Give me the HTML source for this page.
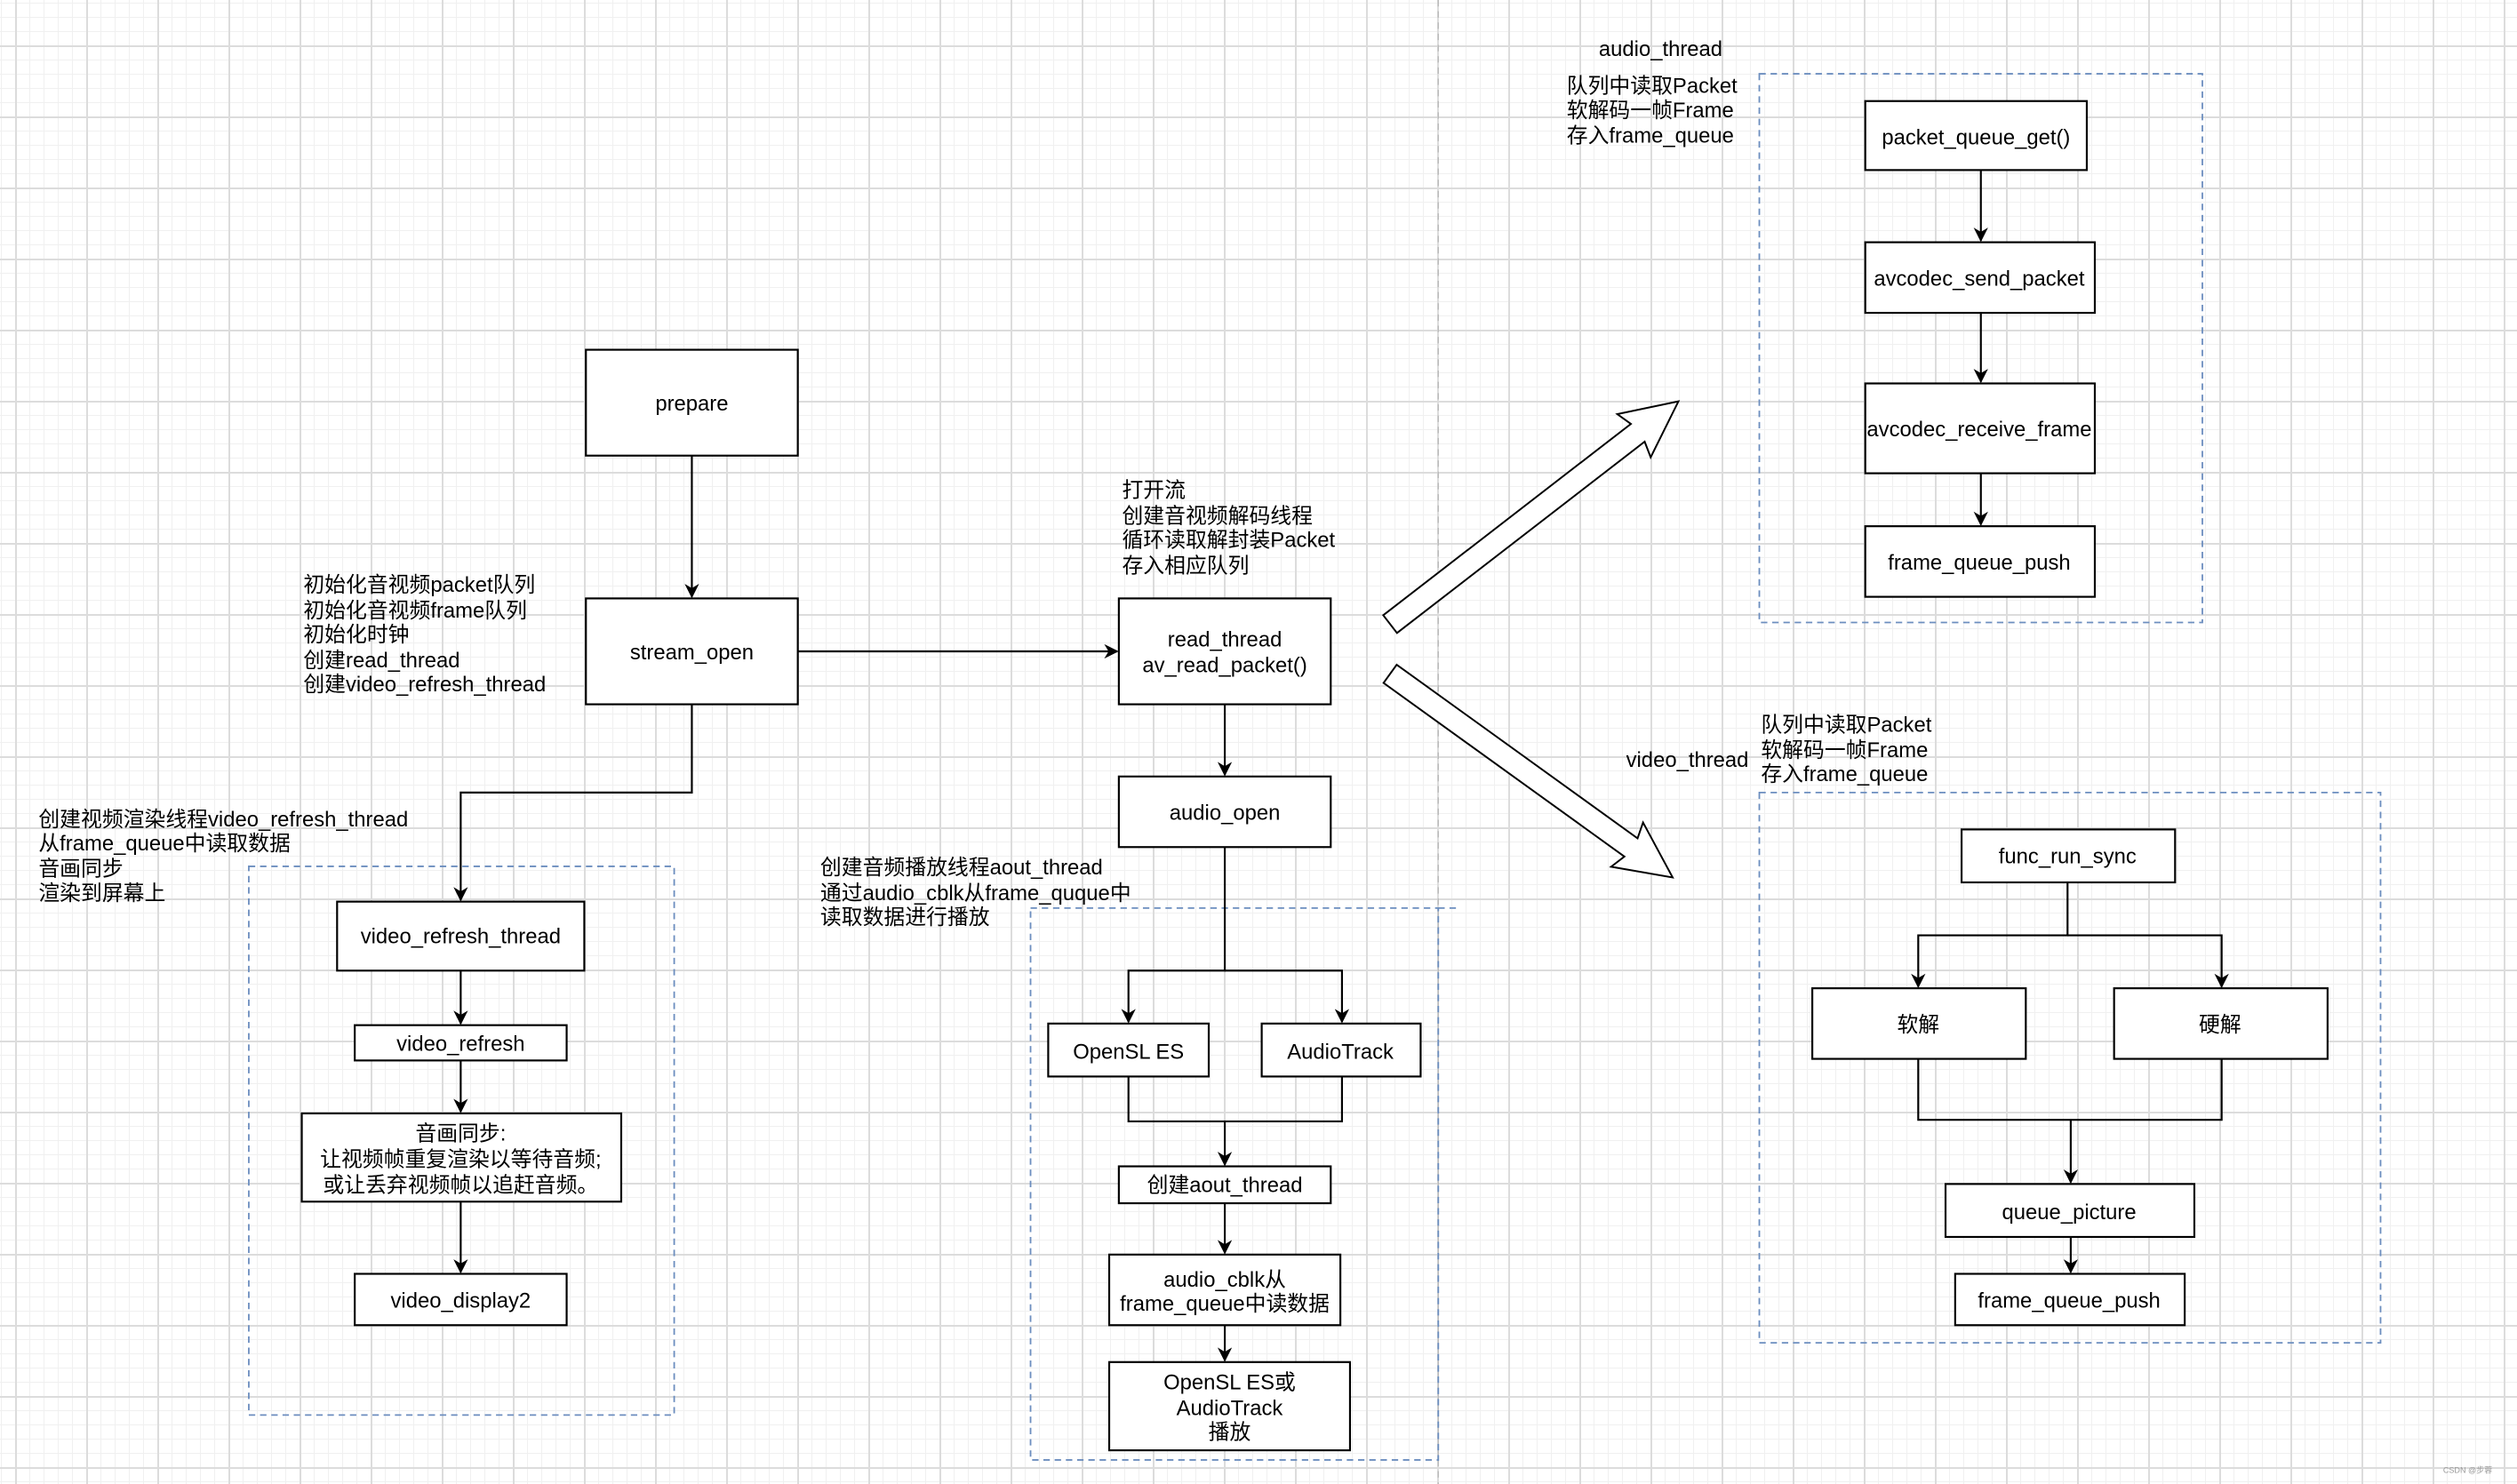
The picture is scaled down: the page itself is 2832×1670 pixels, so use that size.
<!DOCTYPE html>
<html><head><meta charset="utf-8"><style>
html,body{margin:0;padding:0;}
body{width:2832px;height:1670px;overflow:hidden;background:#fff;
background-image:
linear-gradient(to right,#dcdcdc 2px,transparent 2px),
linear-gradient(to bottom,#dcdcdc 2px,transparent 2px),
linear-gradient(to right,#f0f0f0 1px,transparent 1px),
linear-gradient(to bottom,#f0f0f0 1px,transparent 1px);
background-size:80px 80px,80px 80px,16px 16px,16px 16px;
background-position:17px 51px,17px 51px,1px 3px,1px 3px;}
svg{position:absolute;left:0;top:0;}
text{font-family:"Liberation Sans","Noto Sans CJK SC",sans-serif;font-size:13.2px;fill:#000;}
.b{fill:#fff;stroke:#000;stroke-width:1.2;}
.l{fill:none;stroke:#000;stroke-width:1.2;}
.d{fill:none;stroke:#6c8ebf;stroke-width:1;stroke-dasharray:4,3;}
</style></head><body>
<svg width="2832" height="1670" viewBox="0 0 1568 925" preserveAspectRatio="none">
<defs><marker id="a" viewBox="0 0 10 10" refX="9" refY="5" markerWidth="9" markerHeight="9" orient="auto" markerUnits="userSpaceOnUse"><path d="M0,0 L10,5 L0,10 L3,5 z" fill="#000"/></marker></defs>
<line x1="896" y1="0" x2="896" y2="925" stroke="#bbb" stroke-width="0.8" stroke-dasharray="4,3"/>
<rect class="d" x="155" y="540" width="265" height="342"/>
<rect class="d" x="642" y="566" width="254" height="344"/>
<line class="d" x1="896" y1="566" x2="908" y2="566"/>
<rect class="d" x="1096" y="46" width="276" height="342"/>
<rect class="d" x="1096" y="494" width="387" height="343"/>
<line class="l" x1="431" y1="284" x2="431" y2="372" marker-end="url(#a)"/>
<line class="l" x1="497" y1="406" x2="696" y2="406" marker-end="url(#a)"/>
<polyline class="l" points="431,439 431,494 287,494 287,561" marker-end="url(#a)"/>
<line class="l" x1="287" y1="605" x2="287" y2="638" marker-end="url(#a)"/>
<line class="l" x1="287" y1="661" x2="287" y2="693" marker-end="url(#a)"/>
<line class="l" x1="287" y1="749" x2="287" y2="793" marker-end="url(#a)"/>
<line class="l" x1="763" y1="439" x2="763" y2="483" marker-end="url(#a)"/>
<polyline class="l" points="763,528 763,605 703,605 703,637" marker-end="url(#a)"/>
<polyline class="l" points="763,605 836,605 836,637" marker-end="url(#a)"/>
<polyline class="l" points="703,671 703,699 836,699 836,671"/>
<line class="l" x1="763" y1="699" x2="763" y2="726" marker-end="url(#a)"/>
<line class="l" x1="763" y1="750" x2="763" y2="781" marker-end="url(#a)"/>
<line class="l" x1="763" y1="826" x2="763" y2="848" marker-end="url(#a)"/>
<line class="l" x1="1234" y1="106" x2="1234" y2="150" marker-end="url(#a)"/>
<line class="l" x1="1234" y1="195" x2="1234" y2="238" marker-end="url(#a)"/>
<line class="l" x1="1234" y1="295" x2="1234" y2="327" marker-end="url(#a)"/>
<polyline class="l" points="1288,550 1288,583 1195,583 1195,615" marker-end="url(#a)"/>
<polyline class="l" points="1288,583 1384,583 1384,615" marker-end="url(#a)"/>
<polyline class="l" points="1195,660 1195,698 1384,698 1384,660"/>
<line class="l" x1="1290" y1="698" x2="1290" y2="737" marker-end="url(#a)"/>
<line class="l" x1="1290" y1="771" x2="1290" y2="793" marker-end="url(#a)"/>
<g transform="translate(866,389) rotate(-37.7)">
<polygon points="0,-7 195,-7 192,-17 227,0 192,17 195,7 0,7" fill="#fff" stroke="#000" stroke-width="1.1"/>
</g>
<g transform="translate(866,420) rotate(35.8)">
<polygon points="0,-7 185,-7 182,-17 217,0 182,17 185,7 0,7" fill="#fff" stroke="#000" stroke-width="1.1"/>
</g>
<rect class="b" x="365" y="218" width="132" height="66"/><text x="431" y="256" text-anchor="middle">prepare</text>
<rect class="b" x="365" y="373" width="132" height="66"/><text x="431" y="411" text-anchor="middle">stream_open</text>
<rect class="b" x="697" y="373" width="132" height="66"/><text x="763" y="403" text-anchor="middle">read_thread</text><text x="763" y="419" text-anchor="middle">av_read_packet()</text>
<rect class="b" x="697" y="484" width="132" height="44"/><text x="763" y="511" text-anchor="middle">audio_open</text>
<rect class="b" x="210" y="562" width="154" height="43"/><text x="287" y="588" text-anchor="middle">video_refresh_thread</text>
<rect class="b" x="221" y="639" width="132" height="22"/><text x="287" y="655" text-anchor="middle">video_refresh</text>
<rect class="b" x="188" y="694" width="199" height="55"/>
<text x="287" y="711" text-anchor="middle">音画同步:</text><text x="287" y="727" text-anchor="middle">让视频帧重复渲染以等待音频;</text><text x="287" y="743" text-anchor="middle">或让丢弃视频帧以追赶音频。</text>
<rect class="b" x="221" y="794" width="132" height="32"/><text x="287" y="815" text-anchor="middle">video_display2</text>
<rect class="b" x="653" y="638" width="100" height="33"/><text x="703" y="660" text-anchor="middle">OpenSL ES</text>
<rect class="b" x="786" y="638" width="99" height="33"/><text x="835" y="660" text-anchor="middle">AudioTrack</text>
<rect class="b" x="697" y="727" width="132" height="23"/><text x="763" y="743" text-anchor="middle">创建aout_thread</text>
<rect class="b" x="691" y="782" width="144" height="44"/><text x="763" y="802" text-anchor="middle">audio_cblk从</text><text x="763" y="817" text-anchor="middle">frame_queue中读数据</text>
<rect class="b" x="691" y="849" width="150" height="55"/><text x="766" y="866" text-anchor="middle">OpenSL ES或</text><text x="766" y="882" text-anchor="middle">AudioTrack</text><text x="766" y="897" text-anchor="middle">播放</text>
<rect class="b" x="1162" y="63" width="138" height="43"/><text x="1231" y="90" text-anchor="middle">packet_queue_get()</text>
<rect class="b" x="1162" y="151" width="143" height="44"/><text x="1233" y="178" text-anchor="middle">avcodec_send_packet</text>
<rect class="b" x="1162" y="239" width="143" height="56"/><text x="1233" y="272" text-anchor="middle">avcodec_receive_frame</text>
<rect class="b" x="1162" y="328" width="143" height="44"/><text x="1233" y="355" text-anchor="middle">frame_queue_push</text>
<rect class="b" x="1222" y="517" width="133" height="33"/><text x="1288" y="538" text-anchor="middle">func_run_sync</text>
<rect class="b" x="1129" y="616" width="133" height="44"/><text x="1195" y="643" text-anchor="middle">软解</text>
<rect class="b" x="1317" y="616" width="133" height="44"/><text x="1383" y="643" text-anchor="middle">硬解</text>
<rect class="b" x="1212" y="738" width="155" height="33"/><text x="1289" y="760" text-anchor="middle">queue_picture</text>
<rect class="b" x="1218" y="794" width="143" height="32"/><text x="1289" y="815" text-anchor="middle">frame_queue_push</text>
<text x="189" y="369">初始化音视频packet队列</text>
<text x="189" y="385">初始化音视频frame队列</text>
<text x="189" y="400">初始化时钟</text>
<text x="189" y="416">创建read_thread</text>
<text x="189" y="431">创建video_refresh_thread</text>
<text x="699" y="310">打开流</text>
<text x="699" y="326">创建音视频解码线程</text>
<text x="699" y="341">循环读取解封装Packet</text>
<text x="699" y="357">存入相应队列</text>
<text x="24" y="515">创建视频渲染线程video_refresh_thread</text>
<text x="24" y="530">从frame_queue中读取数据</text>
<text x="24" y="546">音画同步</text>
<text x="24" y="561">渲染到屏幕上</text>
<text x="511" y="545">创建音频播放线程aout_thread</text>
<text x="511" y="561">通过audio_cblk从frame_quque中</text>
<text x="511" y="576">读取数据进行播放</text>
<text x="996" y="35">audio_thread</text>
<text x="976" y="58">队列中读取Packet</text>
<text x="976" y="73">软解码一帧Frame</text>
<text x="976" y="89">存入frame_queue</text>
<text x="1013" y="478">video_thread</text>
<text x="1097" y="456">队列中读取Packet</text>
<text x="1097" y="472">软解码一帧Frame</text>
<text x="1097" y="487">存入frame_queue</text>
<text x="1522" y="918" style="font-size:5px;fill:#999">CSDN @步蓉</text>
</svg>
</body></html>
